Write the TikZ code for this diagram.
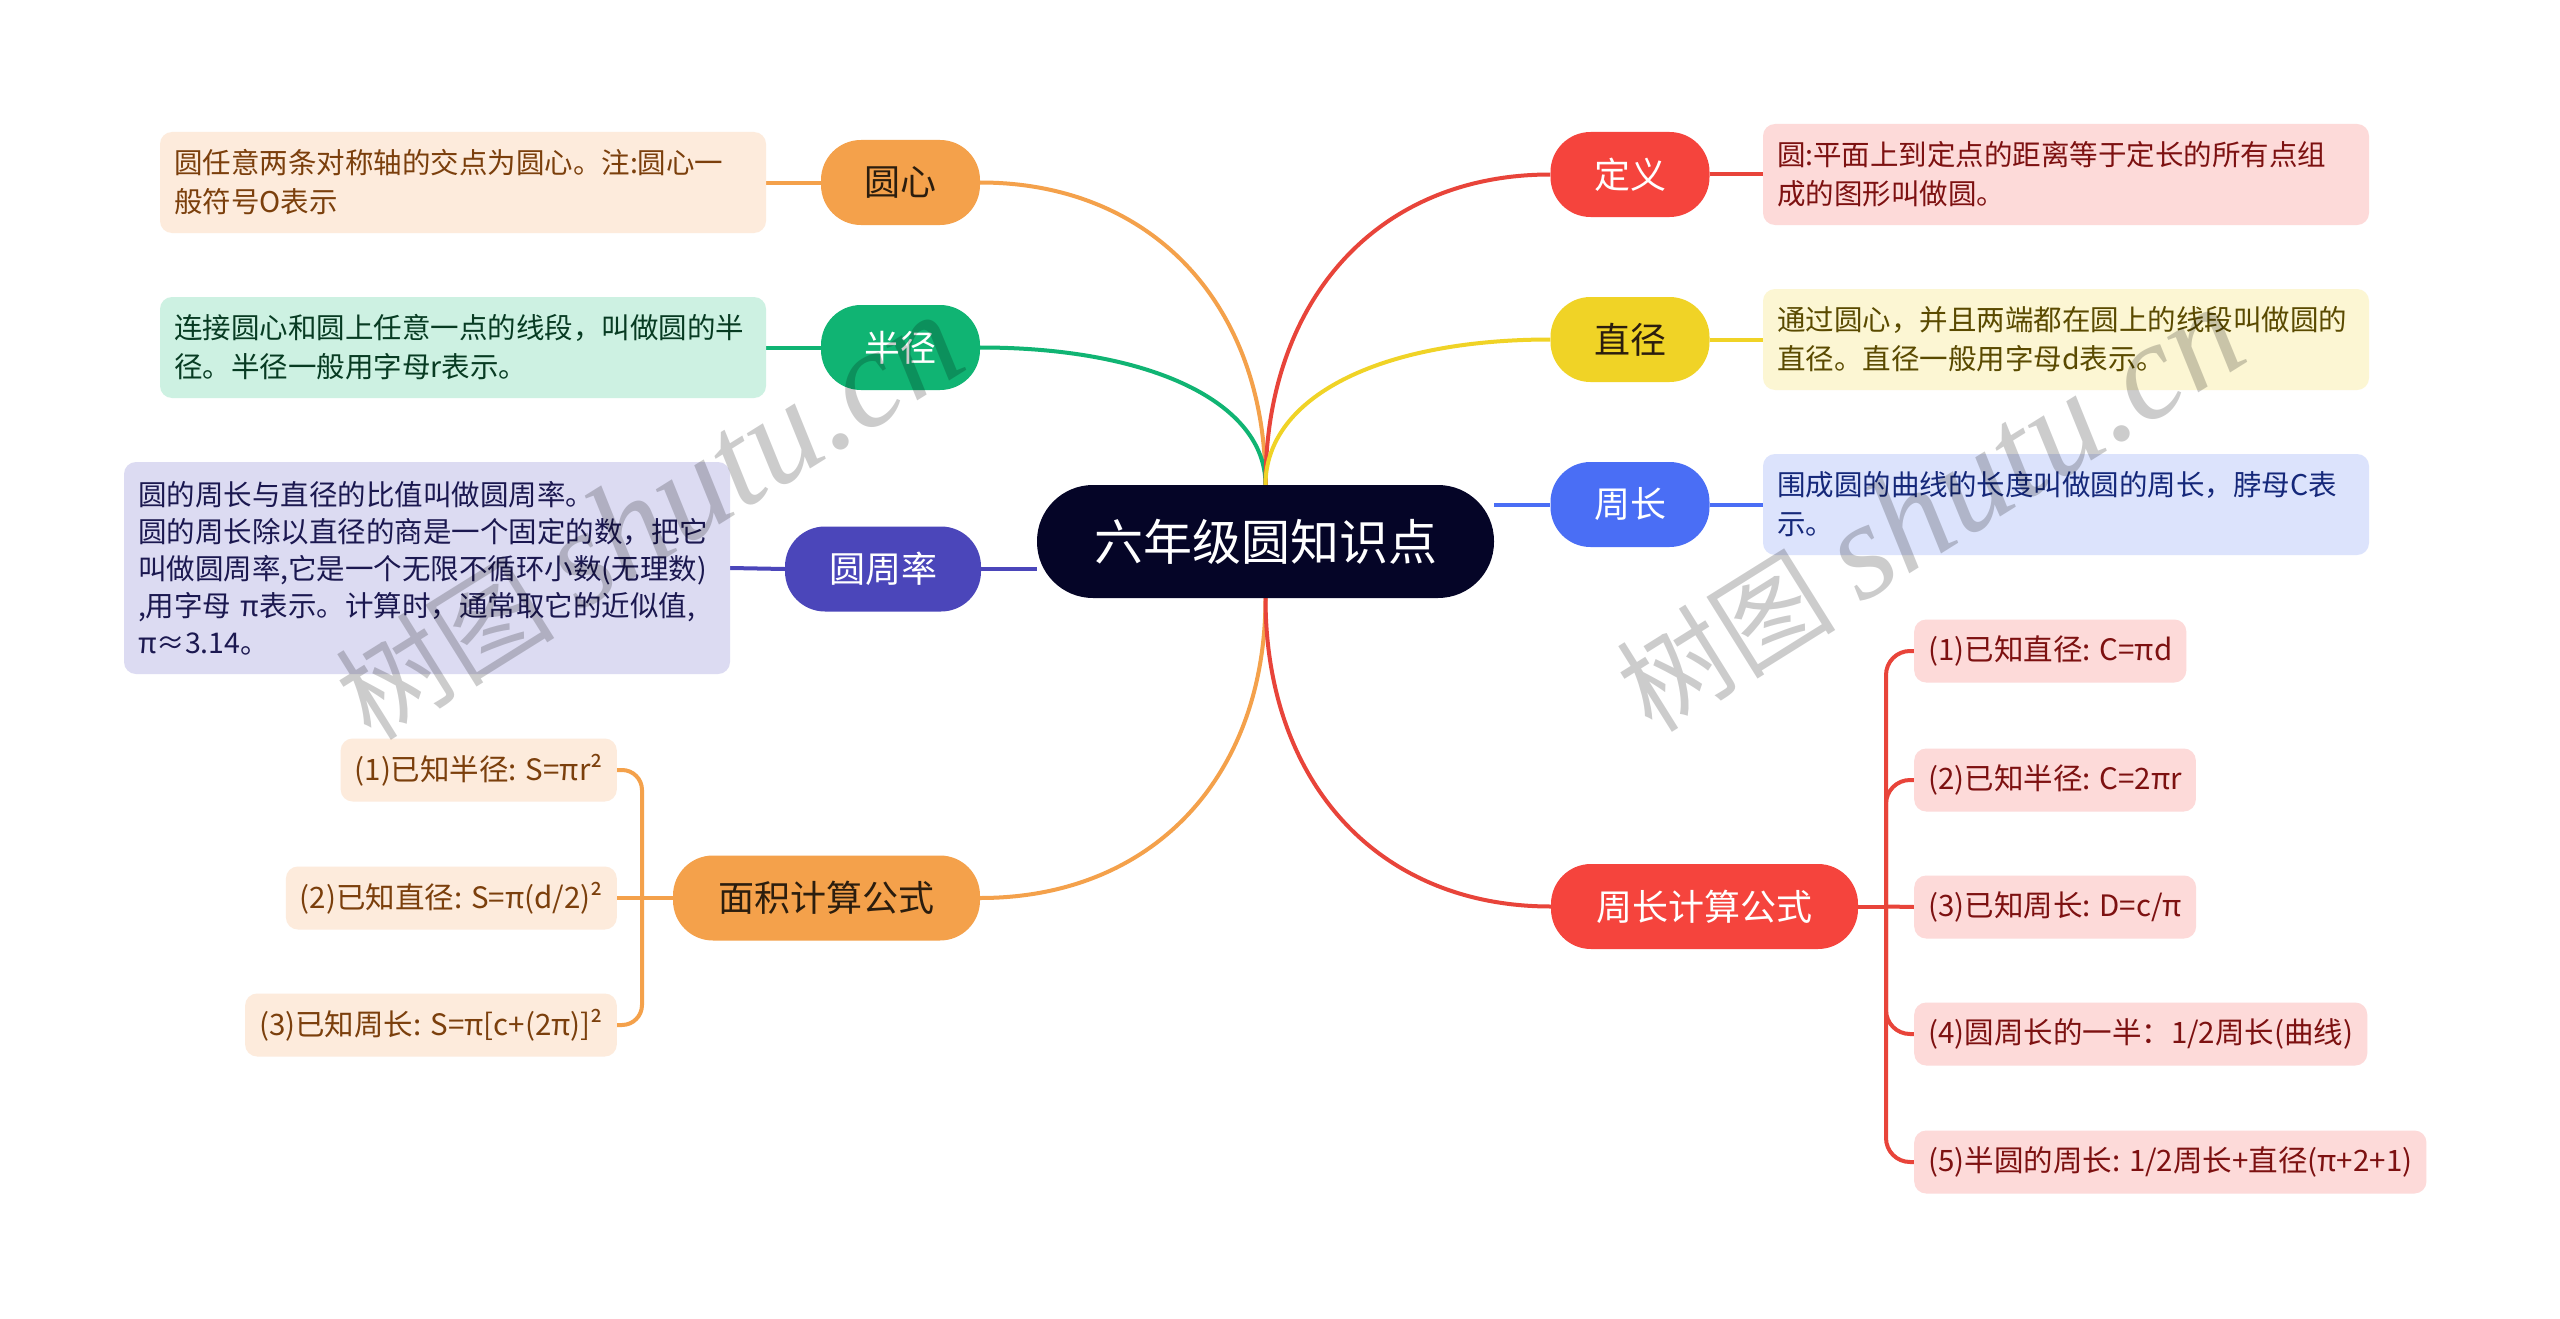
\documentclass[tikz,border=0pt]{standalone}
\usepackage{fontspec}
\setmainfont{Noto Sans CJK SC}
\newfontfamily\wmfont{Liberation Serif}
\usetikzlibrary{backgrounds}
\definecolor{cOrange}{HTML}{F4A14B}
\definecolor{cGreen}{HTML}{10B473}
\definecolor{cPurple}{HTML}{4B46BA}
\definecolor{cRed}{HTML}{F5443D}
\definecolor{cRedL}{HTML}{E8443A}
\definecolor{cYellow}{HTML}{F0D326}
\definecolor{cBlue}{HTML}{4A6EF5}
\definecolor{cRoot}{HTML}{050527}
\definecolor{bOrange}{HTML}{FDEBDC}
\definecolor{tOrange}{HTML}{7B3F0C}
\definecolor{bGreen}{HTML}{CDF1E2}
\definecolor{tGreen}{HTML}{073B22}
\definecolor{bPurple}{HTML}{DCDBF2}
\definecolor{tPurple}{HTML}{1B1850}
\definecolor{bRed}{HTML}{FDDAD9}
\definecolor{tRed}{HTML}{7D1111}
\definecolor{bYellow}{HTML}{FCF6D3}
\definecolor{tYellow}{HTML}{5A4A00}
\definecolor{bBlue}{HTML}{DCE3FC}
\definecolor{tBlue}{HTML}{15287A}
\definecolor{darkT}{HTML}{2B1D0E}
\tikzset{
  rootbox/.style={fill=cRoot, text=white, rounded corners=56pt, minimum width=457pt, minimum height=113pt, inner sep=0pt, font=\fontsize{49}{54}\selectfont},
  mainbox/.style={rounded corners=40pt, minimum height=85pt, inner xsep=10pt, inner ysep=0pt, font=\fontsize{36}{40}\selectfont},
  descbox/.style={rounded corners=12pt, text width=578pt, inner xsep=14pt, inner ysep=0pt, align=left, minimum height=101pt, font=\fontsize{28.5}{39}\selectfont},
  leafbox/.style={rounded corners=12pt, inner xsep=14pt, inner ysep=0pt, minimum height=63pt, font=\fontsize{29.5}{34}\selectfont},
  link/.style={line width=4pt},
  wmark/.style={rotate=32, text=black, text opacity=0.2, inner sep=0pt}
}
\begin{document}
\begin{tikzpicture}[x=1pt,y=-1pt]
\useasboundingbox (0,0) rectangle (2560,1319);
% root
\node[rootbox] (root) at (1265.5,541.5) {六年级圆知识点};
% main topics
\node[mainbox, fill=cOrange, text=darkT, minimum width=159pt] (yx) at (900.5,182.5) {圆心};
\node[mainbox, fill=cGreen, text=white, minimum width=159pt] (bj) at (900.5,347.5) {半径};
\node[mainbox, fill=cPurple, text=white, minimum width=196pt] (zcl) at (883,569) {圆周率};
\node[mainbox, fill=cOrange, text=darkT, minimum width=307pt] (mj) at (826.5,898) {面积计算公式};
\node[mainbox, fill=cRed, text=white, minimum width=159pt] (dy) at (1630,174.5) {定义};
\node[mainbox, fill=cYellow, text=darkT, minimum width=159pt] (zj) at (1630,339.5) {直径};
\node[mainbox, fill=cBlue, text=white, minimum width=159pt] (zc) at (1630,504.5) {周长};
\node[mainbox, fill=cRed, text=white, minimum width=307pt] (zcjs) at (1704.5,906.5) {周长计算公式};
% descriptions
\node[descbox, fill=bOrange, text=tOrange] (yxT) at (463,182.5) {圆任意两条对称轴的交点为圆心。注:圆心一\\般符号O表示};
\node[descbox, fill=bGreen, text=tGreen] (bjT) at (463,347.5) {连接圆心和圆上任意一点的线段，叫做圆的半\\径。半径一般用字母r表示。};
\node[descbox, fill=bPurple, text=tPurple, minimum height=212pt, font=\fontsize{28.5}{37}\selectfont] (zclT) at (427,568) {圆的周长与直径的比值叫做圆周率。\\圆的周长除以直径的商是一个固定的数，把它\\叫做圆周率,它是一个无限不循环小数(无理数)\\,用字母 π表示。计算时，通常取它的近似值,\\π≈3.14。};
\node[descbox, fill=bRed, text=tRed] (dyT) at (2066,174.5) {圆:平面上到定点的距离等于定长的所有点组\\成的图形叫做圆。};
\node[descbox, fill=bYellow, text=tYellow] (zjT) at (2066,339.5) {通过圆心，并且两端都在圆上的线段叫做圆的\\直径。直径一般用字母d表示。};
\node[descbox, fill=bBlue, text=tBlue] (zcT) at (2066,504.5) {围成圆的曲线的长度叫做圆的周长，脖母C表\\示。};
% area leaves
\node[leafbox, fill=bOrange, text=tOrange, anchor=east] (m1) at (617,770) {(1)已知半径: S=πr²};
\node[leafbox, fill=bOrange, text=tOrange, anchor=east] (m2) at (617,898) {(2)已知直径: S=π(d/2)²};
\node[leafbox, fill=bOrange, text=tOrange, anchor=east] (m3) at (617,1025) {(3)已知周长: S=π[c+(2π)]²};
% perimeter leaves
\node[leafbox, fill=bRed, text=tRed, anchor=west] (p1) at (1914,651) {(1)已知直径: C=πd};
\node[leafbox, fill=bRed, text=tRed, anchor=west] (p2) at (1914,780) {(2)已知半径: C=2πr};
\node[leafbox, fill=bRed, text=tRed, anchor=west] (p3) at (1914,907) {(3)已知周长: D=c/π};
\node[leafbox, fill=bRed, text=tRed, anchor=west] (p4) at (1914,1034) {(4)圆周长的一半：1/2周长(曲线)};
\node[leafbox, fill=bRed, text=tRed, anchor=west] (p5) at (1914,1162) {(5)半圆的周长: 1/2周长+直径(π+2+1)};
\coordinate (jL) at (642,898);
\coordinate (jR) at (1886,906.5);
\begin{pgfonlayer}{background}
\fill[white] (0,0) rectangle (2560,1319);
% root to main
\draw[link, cOrange] (root.north) .. controls +(0,-181) and +(171,0) .. (yx.east);
\draw[link, cGreen] (root.north) .. controls +(0,-82) and +(171,0) .. (bj.east);
\draw[link, cRedL] (root.north) .. controls +(0,-186) and +(-172,0) .. (dy.west);
\draw[link, cYellow] (root.north) .. controls +(0,-87) and +(-172,0) .. (zj.west);
\draw[link, cOrange] (root.south) .. controls +(0,180) and +(171,0) .. (mj.east);
\draw[link, cRedL] (root.south) .. controls +(0,185) and +(-172,0) .. (zcjs.west);
\draw[link, cPurple] (root.west |- zcl.east) -- (zcl.east);
\draw[link, cBlue] (root.east |- zc.west) -- (zc.west);
% main to descriptions
\draw[link, cOrange] (yx.west) -- (yxT.east);
\draw[link, cGreen] (bj.west) -- (bjT.east);
\draw[link, cPurple] (zcl.west) -- (zclT.east);
\draw[link, cRedL] (dy.east) -- (dyT.west);
\draw[link, cYellow] (zj.east) -- (zjT.west);
\draw[link, cBlue] (zc.east) -- (zcT.west);
% area leaves
\draw[link, cOrange] (mj.west) -- (jL);
\draw[link, cOrange, rounded corners=20pt] (jL) |- (m1.east);
\draw[link, cOrange] (jL) -- (m2.east);
\draw[link, cOrange, rounded corners=20pt] (jL) |- (m3.east);
% perimeter leaves
\draw[link, cRedL] (zcjs.east) -- (jR);
\draw[link, cRedL, rounded corners=24pt] (jR) |- (p1.west);
\draw[link, cRedL, rounded corners=24pt] (jR) |- (p2.west);
\draw[link, cRedL] (jR) -- (p3.west);
\draw[link, cRedL, rounded corners=24pt] (jR) |- (p4.west);
\draw[link, cRedL, rounded corners=24pt] (jR) |- (p5.west);
\end{pgfonlayer}
% watermarks
\node[wmark] (wm1) at (649,518) {\fontsize{110}{110}\selectfont 树图 {\wmfont\itshape\fontsize{138}{138}\selectfont shutu.cn}};
\node[wmark] (wm2) at (1930,510) {\fontsize{110}{110}\selectfont 树图 {\wmfont\itshape\fontsize{138}{138}\selectfont shutu.cn}};
\end{tikzpicture}
\end{document}
